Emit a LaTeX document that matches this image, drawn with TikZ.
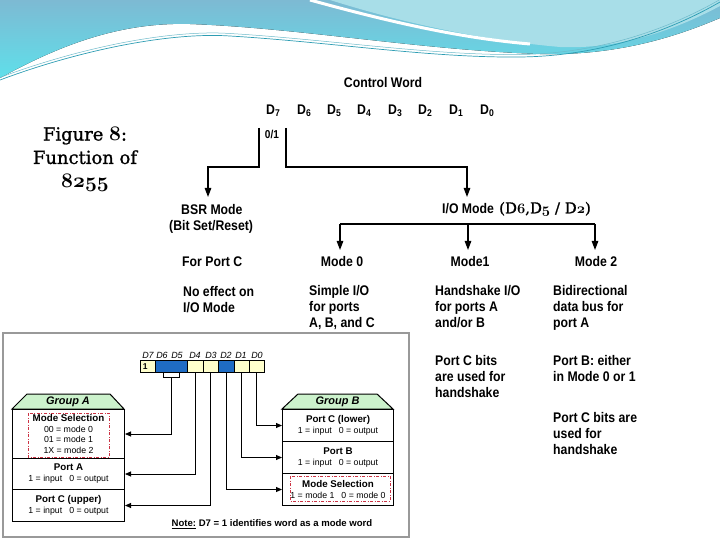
\documentclass[tikz,border=0pt]{standalone}
\usepackage{graphicx}
\usepackage{fontspec}
\setmainfont{Liberation Sans}
\newfontfamily\capfont{DejaVu Serif}[FakeBold=1.2]
\usetikzlibrary{arrows.meta}
\newcommand\osnum[1]{{\fontencoding{OML}\fontfamily{cmm}\fontseries{b}\fontshape{it}\selectfont #1}}
\newcommand\osbig[1]{\scalebox{1.2}{\osnum{#1}}}
\newcommand\cz[1]{\scalebox{0.88}[1]{#1}}
\newcommand\czcol[1]{\scalebox{0.88}[1]{\begin{tabular}{@{}l@{}}#1\end{tabular}}}
\definecolor{wblue}{HTML}{7DBAD3}
\definecolor{wcyan}{HTML}{5FDFEA}
\definecolor{wlight}{HTML}{A8DEE8}
\definecolor{wline}{HTML}{2E9DB3}
\definecolor{cream}{HTML}{FFFFCC}
\definecolor{regblue}{HTML}{1F6CC4}
\definecolor{hdrgreen}{HTML}{CCF2CC}
\definecolor{dashred}{HTML}{CC3344}
\tikzset{
  main/.style={font=\fontsize{14}{16}\selectfont\bfseries, inner sep=0pt},
  col/.style={main, anchor=north west},
  arr/.style={-{Triangle[length=9bp,width=6.5bp]}, line width=1.2bp},
  sarr/.style={-{Triangle[length=6bp,width=5bp]}, line width=0.9bp},
  cell/.style={draw, line width=0.8bp, minimum height=12bp, inner sep=0pt, anchor=north west},
  bitlab/.style={font=\fontsize{9}{10}\selectfont\itshape, inner sep=0pt},
  row/.style={draw, line width=1bp, inner sep=0pt, anchor=north west, align=center,
    font=\fontsize{8.8}{11}\selectfont},
  grp/.style={font=\fontsize{11}{12}\selectfont\bfseries\itshape, inner sep=0pt},
  redbox/.style={draw=dashred, line width=0.8bp, dash pattern=on 3bp off 1.5bp on 1bp off 1.5bp},
  hdr/.style={fill=hdrgreen, draw=black, line width=1bp}
}
\newcommand\rtitle[1]{{\fontsize{9.8}{11}\selectfont\bfseries #1}}
\begin{document}
\begin{tikzpicture}[x=1bp,y=-1bp]
\useasboundingbox (0,0) rectangle (720,540);
% top wave decoration
\fill[top color=wblue, bottom color=wcyan] (0,0) -- (720,0) -- (720,18)
  .. controls (680,35) and (620,56) .. (540,54)
  .. controls (420,50) and (300,28) .. (190,24)
  .. controls (120,22) and (60,45) .. (0,78) -- cycle;
\fill[wlight] (330,0) .. controls (400,22) and (480,40) .. (560,47)
  .. controls (630,50) and (690,22) .. (720,6) -- (720,0) -- cycle;
\draw[white, line width=3bp] (310,0) .. controls (390,22) and (460,38) .. (530,44);
\draw[wline, line width=0.7bp] (0,80) .. controls (80,50) and (170,32) .. (230,36)
  .. controls (330,42) and (430,58) .. (520,57) .. controls (610,56) and (680,25) .. (720,2);
\draw[wline!70, line width=0.5bp, yshift=2.5bp] (0,80) .. controls (80,50) and (170,32) .. (230,36)
  .. controls (330,42) and (430,58) .. (520,57) .. controls (610,56) and (680,25) .. (720,2);

% caption
\node[anchor=north, align=center, inner sep=0pt, font=\capfont\fontsize{18}{23.5}\selectfont] (cap) at (85,127)
  {Figure \osbig{8}:\\Function of\\\osbig{8255}};

% control word
\node[main] (cw) at (383,83) {\cz{Control Word}};
\node[main, anchor=west] (d7) at (266,111) {\cz{D\textsubscript{7}}};
\node[main, anchor=west] (d6) at (297,111) {\cz{D\textsubscript{6}}};
\node[main, anchor=west] (d5) at (327,111) {\cz{D\textsubscript{5}}};
\node[main, anchor=west] (d4) at (357,111) {\cz{D\textsubscript{4}}};
\node[main, anchor=west] (d3) at (388,111) {\cz{D\textsubscript{3}}};
\node[main, anchor=west] (d2) at (418,111) {\cz{D\textsubscript{2}}};
\node[main, anchor=west] (d1) at (449,111) {\cz{D\textsubscript{1}}};
\node[main, anchor=west] (d0) at (480,111) {\cz{D\textsubscript{0}}};
\node[main, font=\fontsize{11.5}{12}\selectfont\bfseries] (zo) at (272,134) {\cz{0/1}};

\coordinate (s0) at (259,128);
\coordinate (s1) at (286,128);
\coordinate (bsrtip) at (208,197);
\coordinate (iotip) at (467,197);
\draw[arr] (s0) -- ++(0,39) -| (bsrtip);
\draw[arr] (s1) -- ++(0,39) -| (iotip);

\node[main, anchor=west] (bsr) at (181,210) {\cz{BSR Mode}};
\node[main, anchor=west] (bsr2) at (169,227) {\cz{(Bit Set/Reset)}};
\node[main, anchor=west] (io) at (442,209) {\cz{I/O Mode}};
\node[anchor=west, inner sep=0pt, font=\capfont\fontsize{15}{18}\selectfont] (iod) at (499,209)
  {(D\osnum{6},D\osnum{5} / D\osnum{2})};

\coordinate (hb0) at (340,224);
\coordinate (hb1) at (468,224);
\coordinate (hb2) at (595,224);
\coordinate (m0tip) at (340,250);
\coordinate (m1tip) at (468,250);
\coordinate (m2tip) at (595,250);
\draw[line width=1.2bp] (hb0) -- (hb2);
\draw[arr] (hb0) -- (m0tip);
\draw[arr] (hb1) -- (m1tip);
\draw[arr] (hb2) -- (m2tip);

\node[main] (m0) at (342,262) {\cz{Mode 0}};
\node[main] (m1) at (470,262) {\cz{Mode1}};
\node[main] (m2) at (596,262) {\cz{Mode 2}};

\node[main, anchor=west] (fpc) at (182,262) {\cz{For Port C}};
\node[col] (noeff) at (183,284.8) {\czcol{No effect on\\I/O Mode}};
\node[col] (simple) at (309,283.8) {\czcol{Simple I/O\\for ports\\A, B, and C}};
\node[col] (hand) at (435,283.8) {\czcol{Handshake I/O\\for ports A\\and/or B}};
\node[col] (pcb1) at (435,353.8) {\czcol{Port C bits\\are used for\\handshake}};
\node[col] (bidir) at (553,283.8) {\czcol{Bidirectional\\data bus for\\port A}};
\node[col] (pbe) at (553,353.8) {\czcol{Port B: either\\in Mode 0 or 1}};
\node[col] (pcb2) at (553,410.8) {\czcol{Port C bits are\\used for\\handshake}};

% lower-left embedded figure
\filldraw[fill=white, draw=black!40, line width=2bp] (3,333) rectangle (409,537);

\node[bitlab] (l7) at (148,355) {D7};
\node[bitlab] (l6) at (162,355) {D6};
\node[bitlab] (l5) at (177,355) {D5};
\node[bitlab] (l4) at (195,355) {D4};
\node[bitlab] (l3) at (211,355) {D3};
\node[bitlab] (l2) at (226,355) {D2};
\node[bitlab] (l1) at (241,355) {D1};
\node[bitlab] (l0) at (257,355) {D0};

\node[cell, fill=cream, minimum width=15bp, font=\fontsize{8.5}{9}\selectfont\bfseries] (c7) at (140,360) {\makebox[10bp][l]{1}};
\node[cell, fill=regblue, minimum width=32bp] (c65) at (155,360) {};
\node[cell, fill=cream, minimum width=16bp] (c4) at (187,360) {};
\node[cell, fill=cream, minimum width=15bp] (c3) at (203,360) {};
\node[cell, fill=regblue, minimum width=16bp] (c2) at (218,360) {};
\node[cell, fill=cream, minimum width=15bp] (c1) at (234,360) {};
\node[cell, fill=cream, minimum width=15bp] (c0) at (249,360) {};
\draw[line width=0.8bp] (163,372) -- (163,377) -- (179,377) -- (179,372);
\coordinate (brk) at (171,377);

% group A
\filldraw[hdr] (12,409) -- (27,394) -- (110,394) -- (124,409) -- cycle;
\node[grp] (ga) at (68,402) {Group A};
\node[row, minimum width=112bp, minimum height=49bp] (amode) at (12,409)
  {\rtitle{Mode Selection}\\00 = mode 0\\01 = mode 1\\1X = mode 2};
\node[row, minimum width=112bp, minimum height=31bp] (aporta) at (12,458)
  {\rtitle{Port A}\\1 = input\hspace{7bp}0 = output};
\node[row, minimum width=112bp, minimum height=32bp] (aportc) at (12,489)
  {\rtitle{Port C (upper)}\\1 = input\hspace{7bp}0 = output};
\draw[redbox] (28,413) rectangle (109,457);

% group B
\filldraw[hdr] (282,409) -- (298,394) -- (377,394) -- (393,409) -- cycle;
\node[grp] (gb) at (337.5,402) {Group B};
\node[row, minimum width=111bp, minimum height=32bp] (bportc) at (282,409)
  {\rtitle{Port C (lower)}\\1 = input\hspace{7bp}0 = output};
\node[row, minimum width=111bp, minimum height=32bp] (bportb) at (282,441)
  {\rtitle{Port B}\\1 = input\hspace{7bp}0 = output};
\node[row, minimum width=111bp, minimum height=32bp] (bmode) at (282,473)
  {\rtitle{Mode Selection}\\1 = mode 1\hspace{7bp}0 = mode 0};
\draw[redbox] (290,476) rectangle (390,501);

% bit connectors
\draw[sarr] (brk) |- (amode.east);
\draw[sarr] (c4.south) |- (aporta.east);
\draw[sarr] (c3.south) |- (aportc.east);
\draw[sarr] (c2.south) |- (bmode.west);
\draw[sarr] (c1.south) |- (bportb.west);
\draw[sarr] (c0.south) |- (bportc.west);

\node[inner sep=0pt, font=\fontsize{9.6}{11}\selectfont\bfseries] (note) at (272,524)
  {\underline{Note:} D7 = 1 identifies word as a mode word};
\end{tikzpicture}
\end{document}
